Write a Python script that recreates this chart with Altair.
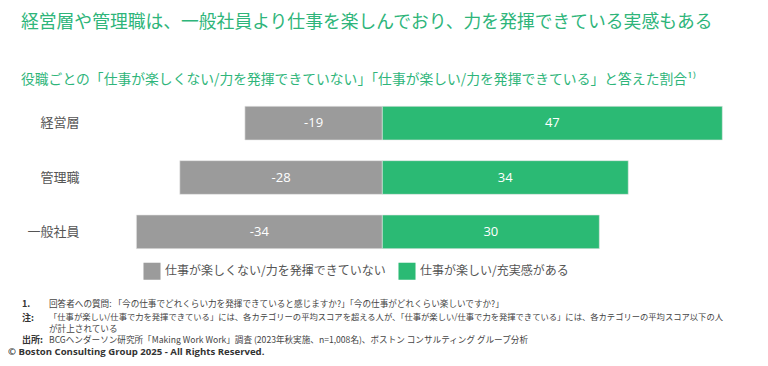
import altair as alt
import pandas as pd

# ---- data ----
categories = ["経営層", "管理職", "一般社員"]
neg_values = [-19, -28, -34]
pos_values = [47, 34, 30]
neg_label = "仕事が楽しくない/力を発揮できていない"
pos_label = "仕事が楽しい/充実感がある"

title_text = "経営層や管理職は、一般社員より仕事を楽しんでおり、力を発揮できている実感もある"
subtitle_text = "役職ごとの「仕事が楽しくない/力を発揮できていない」「仕事が楽しい/力を発揮できている」と答えた割合¹⁾"
note_labels = ["1.", "注:", "", "出所:"]
note_texts = [
    "回答者への質問: 「今の仕事でどれくらい力を発揮できていると感じますか?」「今の仕事がどれくらい楽しいですか?」",
    "「仕事が楽しい/仕事で力を発揮できている」には、各カテゴリーの平均スコアを超える人が、「仕事が楽しい/仕事で力を発揮できている」には、各カテゴリーの平均スコア以下の人",
    "が計上されている",
    "BCGヘンダーソン研究所「Making Work Work」調査 (2023年秋実施、n=1,008名)、ボストン コンサルティング グループ分析",
]
note_sizes = [8.6, 8.3, 8.6, 8.6]
copyright_text = "© Boston Consulting Group 2025 - All Rights Reserved."

JP = "Noto Sans CJK JP"
GREEN_TXT = "#2eb57a"

rows = []
for c, n, p in zip(categories, neg_values, pos_values):
    rows.append({"cat": c, "series": neg_label, "start": n, "end": 0, "lbl": str(n)})
    rows.append({"cat": c, "series": pos_label, "start": 0, "end": p, "lbl": str(p)})
df = pd.DataFrame(rows)
df["mid"] = (df["start"] + df["end"]) / 2

W, H = 651, 163

y_enc = alt.Y("cat:N", sort=categories,
              scale=alt.Scale(paddingInner=0.38, paddingOuter=0.19),
              axis=alt.Axis(title=None, domain=False, ticks=False, labelFont=JP,
                            labelFontSize=13, labelColor="#555555", labelPadding=14))
x_scale = alt.Scale(domain=[-40, 50], nice=False, zero=False)

base = alt.Chart(df)
bars = base.mark_bar(stroke="#e6e6e6", strokeWidth=0.6).encode(
    x=alt.X("start:Q", scale=x_scale, axis=None),
    x2="end:Q",
    y=y_enc,
    color=alt.Color("series:N", sort=[neg_label, pos_label],
                    scale=alt.Scale(domain=[neg_label, pos_label], range=["#9b9b9b", "#2bba74"]),
                    legend=alt.Legend(title=None, orient="none", legendX=50, legendY=166,
                                      direction="horizontal", symbolType="square",
                                      symbolSize=290, symbolStrokeWidth=0, symbolOpacity=1,
                                      labelFont=JP, labelFontSize=12, labelColor="#555555",
                                      labelLimit=400, columnPadding=12, symbolOffset=0)),
)
labels = base.mark_text(color="white", font="Open Sans", fontSize=13).encode(
    x=alt.X("mid:Q", scale=x_scale, axis=None),
    y=alt.Y("cat:N", sort=categories),
    text="lbl:N",
)

def txt(text, x, y, size, color, weight="normal", font=JP):
    return alt.Chart(pd.DataFrame({"t": [text]})).mark_text(
        align="left", baseline="middle", fontSize=size, color=color, fontWeight=weight, font=font
    ).encode(x=alt.value(x), y=alt.value(y), text="t:N")

layers = [bars, labels,
          txt(title_text, -72, -73, 17.8, GREEN_TXT),
          txt(subtitle_text, -72, -16, 13.8, GREEN_TXT)]
note_y = [208, 222, 233, 244]
for lab, t, yy, sz in zip(note_labels, note_texts, note_y, note_sizes):
    if lab:
        layers.append(txt(lab, -71, yy, 9, "#333333", weight="bold"))
    layers.append(txt(t, -44, yy, sz, "#444444"))
layers.append(txt(copyright_text, -85, 255.5, 9.6, "#333333", weight="bold", font="Open Sans"))

chart = alt.layer(*layers).properties(
    width=W, height=H,
    background="white",
    autosize=alt.AutoSizeParams(type="none"),
    padding={"left": 85, "top": 88, "right": 16, "bottom": 99},
).configure_view(strokeWidth=0, stroke="transparent")

chart.save("out.html", embed_options={"renderer": "svg", "actions": False})
